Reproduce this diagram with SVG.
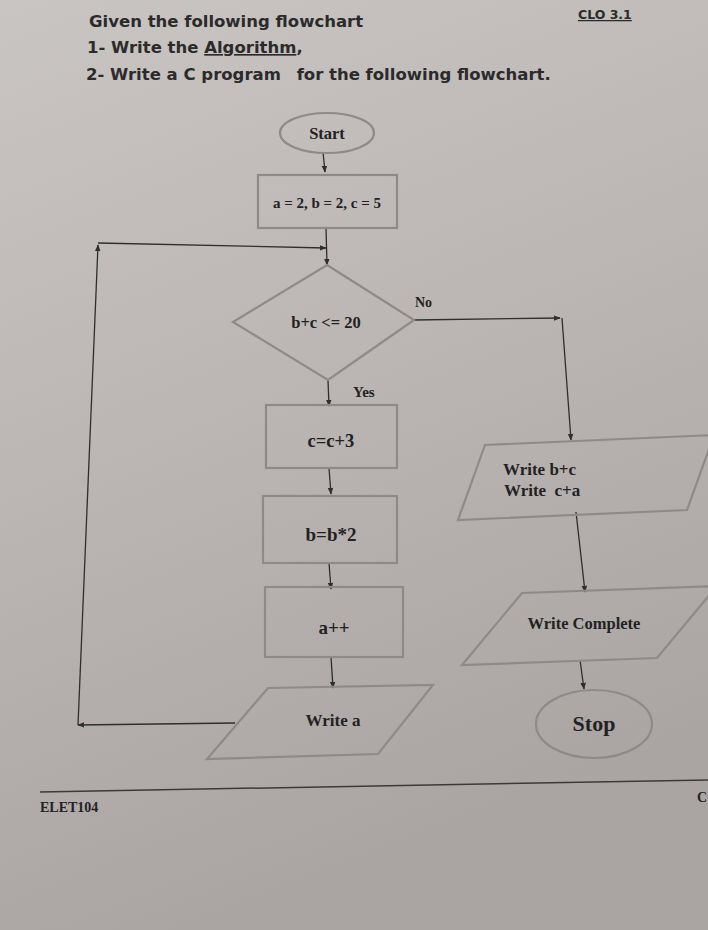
<svg xmlns="http://www.w3.org/2000/svg" width="708" height="930" viewBox="0 0 708 930">
<defs>
<linearGradient id="paper" x1="0" y1="0" x2="0.3" y2="1">
<stop offset="0" stop-color="#c9c5c3"/>
<stop offset="0.5" stop-color="#bbb6b4"/>
<stop offset="1" stop-color="#aaa5a3"/>
</linearGradient>
<marker id="ah" viewBox="0 0 10 10" refX="9" refY="5" markerWidth="7" markerHeight="7" orient="auto-start-reverse" markerUnits="userSpaceOnUse">
<path d="M0,1 L10,5 L0,9 Z" fill="#2e2e2e"/>
</marker>
<style>
.hdr{font-family:"DejaVu Sans","Liberation Sans",sans-serif;font-weight:bold;fill:#2b2b2b}
.t{font-family:"Liberation Serif","Times New Roman",serif;font-weight:bold;fill:#222}
.shape{fill:none;stroke:#8e8a88;stroke-width:2.2}
.conn{fill:none;stroke:#2e2e2e;stroke-width:1.3}
</style>
</defs>
<rect width="708" height="930" fill="url(#paper)"/>

<g id="header">
<text class="hdr" x="89" y="27" font-size="16.5">Given the following flowchart</text>
<text class="hdr" x="87" y="53" font-size="16.5">1- Write the <tspan text-decoration="underline">Algorithm</tspan>,</text>
<text class="hdr" x="86" y="80" font-size="16.5">2- Write a C program <tspan dx="10">for the following flowchart.</tspan></text>
<text class="hdr" x="578" y="19" font-size="12.5" text-decoration="underline">CLO 3.1</text>
</g>

<g id="connectors">
<line class="conn" x1="323" y1="152" x2="325" y2="172" marker-end="url(#ah)"/>
<line class="conn" x1="326" y1="228" x2="327" y2="265" marker-end="url(#ah)"/>
<line class="conn" x1="98" y1="243" x2="326" y2="248" marker-end="url(#ah)"/>
<line class="conn" x1="78" y1="725" x2="98" y2="245" marker-end="url(#ah)"/>
<line class="conn" x1="235" y1="723" x2="78" y2="725" marker-end="url(#ah)"/>
<line class="conn" x1="414" y1="320" x2="560" y2="318" marker-end="url(#ah)"/>
<line class="conn" x1="562" y1="318" x2="571" y2="440" marker-end="url(#ah)"/>
<line class="conn" x1="328" y1="380" x2="329" y2="406" marker-end="url(#ah)"/>
<line class="conn" x1="329" y1="468" x2="331" y2="494" marker-end="url(#ah)"/>
<line class="conn" x1="329" y1="563" x2="331" y2="589" marker-end="url(#ah)"/>
<line class="conn" x1="331" y1="657" x2="333" y2="688" marker-end="url(#ah)"/>
<line class="conn" x1="576" y1="512" x2="585" y2="592" marker-end="url(#ah)"/>
<line class="conn" x1="580" y1="660" x2="584" y2="689" marker-end="url(#ah)"/>
<text class="t" x="415" y="307" font-size="14">No</text>
<text class="t" x="353" y="397" font-size="15">Yes</text>
</g>

<g id="start">
<ellipse class="shape" cx="327" cy="133" rx="47" ry="20"/>
<text class="t" x="327" y="139" font-size="16.5" text-anchor="middle">Start</text>
</g>

<g id="init">
<rect class="shape" x="258" y="175" width="139" height="53"/>
<text class="t" x="327" y="208" font-size="15" text-anchor="middle">a = 2, b = 2, c = 5</text>
</g>

<g id="decision">
<polygon class="shape" points="327,265 414,320 328,380 233,322"/>
<text class="t" x="326" y="328" font-size="16.5" text-anchor="middle">b+c &lt;= 20</text>
</g>

<g id="c_update">
<rect class="shape" x="266" y="405" width="131" height="63"/>
<text class="t" x="331" y="447" font-size="18.5" text-anchor="middle">c=c+3</text>
</g>

<g id="b_update">
<rect class="shape" x="263" y="496" width="134" height="67"/>
<text class="t" x="331" y="541" font-size="19" text-anchor="middle">b=b*2</text>
</g>

<g id="a_inc">
<rect class="shape" x="265" y="587" width="138" height="70"/>
<text class="t" x="334" y="634" font-size="19" text-anchor="middle">a++</text>
</g>

<g id="write_a">
<polygon class="shape" points="268,688 433,685 378,754 207,759"/>
<text class="t" x="333" y="726" font-size="17" text-anchor="middle">Write a</text>
</g>

<g id="write_bc">
<polygon class="shape" points="485,445 714,435 687,510 458,520"/>
<text class="t" x="503" y="475" font-size="17">Write b+c</text>
<text class="t" x="504" y="496" font-size="17">Write <tspan dx="4">c+a</tspan></text>
</g>

<g id="write_complete">
<polygon class="shape" points="522,593 717,586 657,658 462,665"/>
<text class="t" x="584" y="629" font-size="16.5" text-anchor="middle">Write Complete</text>
</g>

<g id="stop">
<ellipse class="shape" cx="594" cy="724" rx="58" ry="34"/>
<text class="t" x="594" y="731" font-size="22" text-anchor="middle">Stop</text>
</g>

<g id="footer">
<line x1="40" y1="792" x2="708" y2="780" stroke="#3a3a3a" stroke-width="1.5"/>
<text class="t" x="40" y="812" font-size="14">ELET104</text>
<text class="t" x="697" y="802" font-size="14">C</text>
</g>
</svg>
